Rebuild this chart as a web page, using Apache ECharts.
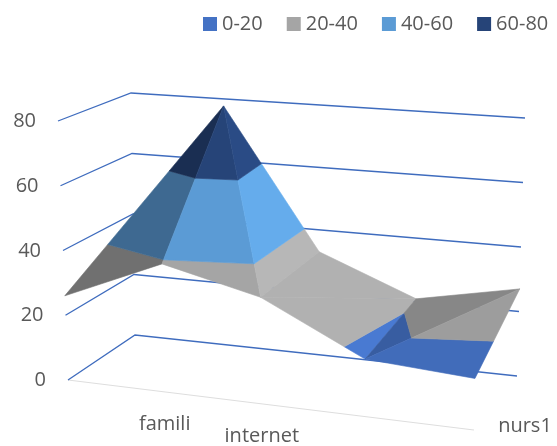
<!DOCTYPE html>
<html>
<head>
<meta charset="utf-8">
<style>html,body{margin:0;padding:0;background:#fff}#c{width:557px;height:446px}</style>
<script src="https://cdn.jsdelivr.net/npm/echarts@6/dist/echarts.min.js"></script>
</head>
<body>
<div id="c"></div>
<script>
// Data
const bandNames = ['0-20', '20-40', '40-60', '60-80'];
const bandLimits = [0, 20, 40, 60, 80];
const bandColors = ['#4472C4', '#A5A5A5', '#5B9BD5', '#264478'];
const zTicks = [0, 20, 40, 60, 80];
const categories = ['', 'famili', 'internet', '', ''];
const depthName = 'nurs1';
const frontRow = [26, 39, 32, 17, 15];
const backRow = [30, 77.7, 33, 20.9, 27];

// Mesh: vertex = [column, row]; row 0 front, row 1 back. The facet behind the front-left one is fully hidden.
const facets = [
  [[0,0],[1,0],[1,1]],
  [[1,0],[2,0],[1,1]],
  [[2,0],[2,1],[1,1]],
  [[2,0],[3,0],[3,1]],
  [[2,0],[3,1],[2,1]],
  [[3,0],[4,1],[3,1]],
  [[3,0],[4,0],[4,1]]
];
const facetShade = [0.68, 1, 1.11, 1.07, 1.07, 0.82, 0.95];

// View frame in the hidden 557x446 value axes
const floorQuad = [[68,380],[474,430],[517,376],[135,335]];
const topQuad = [[58,121],[479,155],[525,118],[131,93]];
const columnStops = [0, 0.269, 0.515, 0.757, 1];

function homography(q) {
  const [p0,p1,p2,p3] = q;
  const dx1=p1[0]-p2[0], dx2=p3[0]-p2[0], sx=p0[0]-p1[0]+p2[0]-p3[0];
  const dy1=p1[1]-p2[1], dy2=p3[1]-p2[1], sy=p0[1]-p1[1]+p2[1]-p3[1];
  const d=dx1*dy2-dx2*dy1;
  const g=(sx*dy2-dx2*sy)/d, h=(dx1*sy-sx*dy1)/d;
  const a=p1[0]-p0[0]+g*p1[0], b=p3[0]-p0[0]+h*p3[0], c=p0[0];
  const e=p1[1]-p0[1]+g*p1[1], f=p3[1]-p0[1]+h*p3[1], i=p0[1];
  return (u,v)=>{const w=g*u+h*v+1;return [(a*u+b*v+c)/w,(e*u+f*v+i)/w];};
}
const floorH = homography(floorQuad), topH = homography(topQuad);
function project(u, v, z) {
  const a=floorH(u,v), b=topH(u,v), t=z/80;
  return [a[0]+(b[0]-a[0])*t, a[1]+(b[1]-a[1])*t];
}
function vertex(cr) {
  const z = (cr[1] ? backRow : frontRow)[cr[0]];
  const p = project(columnStops[cr[0]], cr[1], z);
  return {x:p[0], y:p[1], z:z};
}
function clip(poly, limit, keepAbove) {
  const out=[];
  poly.forEach((p,i)=>{
    const q=poly[(i+1)%poly.length];
    const pin=keepAbove?p.z>=limit:p.z<=limit, qin=keepAbove?q.z>=limit:q.z<=limit;
    if(pin) out.push(p);
    if(pin!==qin){
      const t=(limit-p.z)/(q.z-p.z);
      out.push({x:p.x+(q.x-p.x)*t,y:p.y+(q.y-p.y)*t,z:limit});
    }
  });
  return out;
}
function shade(hex,s){
  const n=parseInt(hex.slice(1),16);
  const c=[n>>16,(n>>8)&255,n&255].map(v=>Math.min(255,Math.round(v*s)));
  return 'rgb('+c.join(',')+')';
}
const FONT = '20px "Open Sans", sans-serif';
const TEXT = '#595959';

function bandSeries(b){
  return {
    type:'custom', name:bandNames[b], coordinateSystem:'cartesian2d', z:5,
    itemStyle:{color:bandColors[b]},
    data:facets.map((f,i)=>[i]),
    encode:{x:0,y:0}, silent:true,
    renderItem(params,api){
      const i=api.value(0);
      let poly=facets[i].map(vertex);
      poly=clip(poly,bandLimits[b],true);
      if(poly.length) poly=clip(poly,bandLimits[b+1],false);
      if(poly.length<3) return null;
      const col=shade(bandColors[b],facetShade[i]);
      return {type:'polygon',shape:{points:poly.map(p=>api.coord([p.x,p.y]))},
        style:{fill:col,stroke:col,lineWidth:0.6}};
    }
  };
}
const wallSeries = {
  type:'custom', name:'walls', coordinateSystem:'cartesian2d', z:2, silent:true,
  data:zTicks.map(z=>[z]), encode:{x:0,y:0},
  renderItem(params,api){
    const z=api.value(0);
    const pts=[project(0,0,z),project(0,1,z),project(1,1,z)].map(p=>api.coord(p));
    return {type:'polyline',shape:{points:pts},style:{fill:'none',stroke:'#3F6CBE',lineWidth:1.3}};
  }
};
const floorEdge = {
  type:'custom', name:'floor', coordinateSystem:'cartesian2d', z:1, silent:true,
  data:[[0]], encode:{x:0,y:0},
  renderItem(params,api){
    const pts=[project(0,0,0),project(1,0,0)].map(p=>api.coord(p));
    return {type:'line',shape:{x1:pts[0][0],y1:pts[0][1],x2:pts[1][0],y2:pts[1][1]},style:{stroke:'#DEDEDE',lineWidth:1.2}};
  }
};
const zLabels = {
  type:'custom', name:'zLabels', coordinateSystem:'cartesian2d', z:6, silent:true,
  data:zTicks.map(z=>[z]), encode:{x:0,y:0},
  renderItem(params,api){
    const z=api.value(0), p=project(0,0,z), c=api.coord([p[0]-22,p[1]+0.5]);
    return {type:'text',style:{text:String(z),x:c[0],y:c[1],fill:TEXT,font:FONT,textAlign:'right',textVerticalAlign:'middle'}};
  }
};
const catLabels = {
  type:'custom', name:'catLabels', coordinateSystem:'cartesian2d', z:6, silent:true,
  data:categories.map((c,i)=>[i]), encode:{x:0,y:0},
  renderItem(params,api){
    const i=api.value(0);
    if(!categories[i]) return null;
    const p=project(columnStops[i],0,0), c=api.coord([p[0]-3.5,p[1]+31.5]);
    return {type:'text',style:{text:categories[i],x:c[0],y:c[1],fill:TEXT,font:FONT,textAlign:'center',textVerticalAlign:'middle'}};
  }
};
const depthLabel = {
  type:'custom', name:'depthLabel', coordinateSystem:'cartesian2d', z:6, silent:true,
  data:[[0]], encode:{x:0,y:0},
  renderItem(params,api){
    const p=project(1,0,0), c=api.coord([p[0]+51,p[1]-4]);
    return {type:'text',style:{text:depthName,x:c[0],y:c[1],fill:TEXT,font:FONT,textAlign:'center',textVerticalAlign:'middle'}};
  }
};

const chart = echarts.init(document.getElementById('c'), null, {renderer:'canvas'});
chart.setOption({
  animation:false,
  backgroundColor:'#fff',
  grid:{left:0,right:0,top:0,bottom:0},
  xAxis:{type:'value',min:0,max:557,show:false},
  yAxis:{type:'value',min:0,max:446,inverse:true,show:false},
  legend:{
    data:bandNames, left:203, top:14, padding:0, itemWidth:14, itemHeight:14, itemGap:24,
    icon:'rect', selectedMode:false,
    textStyle:{color:TEXT,fontFamily:'"Open Sans", sans-serif',fontSize:20}
  },
  series:[floorEdge,wallSeries].concat(bandNames.map((n,b)=>bandSeries(b)),[zLabels,catLabels,depthLabel])
});
</script>
</body>
</html>
